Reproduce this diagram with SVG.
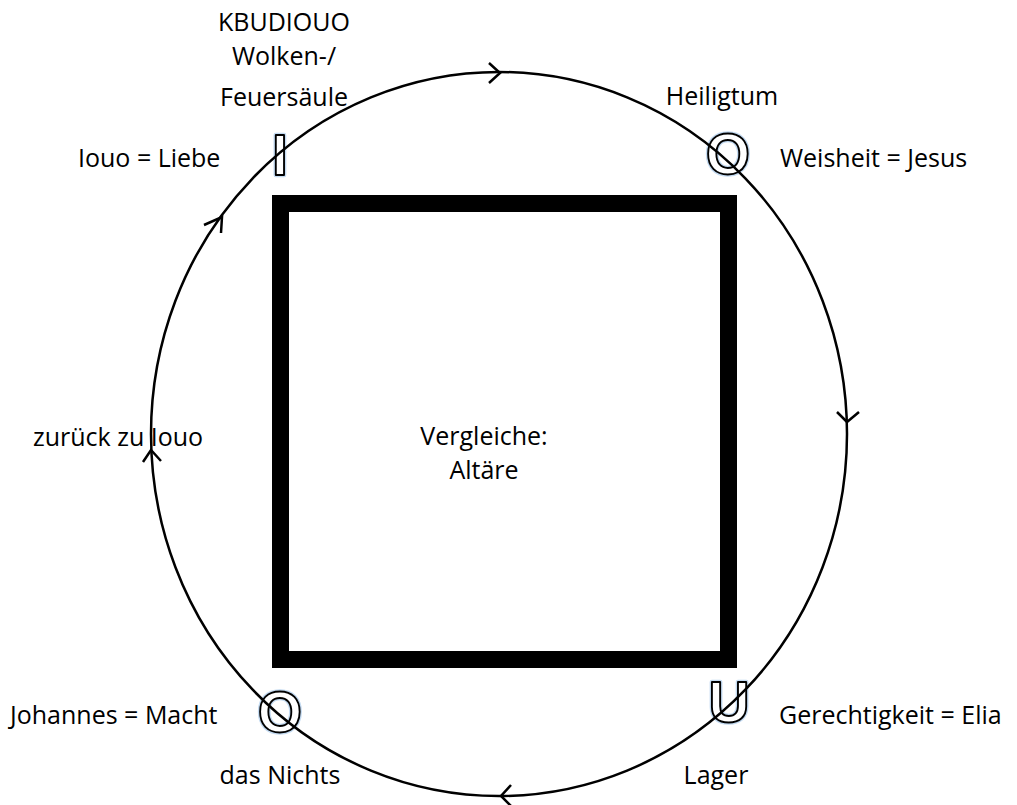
<svg xmlns="http://www.w3.org/2000/svg" width="1017" height="805" viewBox="0 0 1017 805">
<style>
.t{font-family:"Open Sans","Liberation Sans",Arial,sans-serif;font-size:25px;fill:#000}
.m{text-anchor:middle}
.glow{font-family:"Liberation Sans",Arial,sans-serif;font-size:57px;font-weight:bold;text-anchor:middle;fill:none;stroke:#c3daf1;stroke-width:4.5;stroke-linejoin:round}
.let{font-family:"Liberation Sans",Arial,sans-serif;font-size:57px;font-weight:bold;text-anchor:middle;fill:#fff;stroke:#000;stroke-width:1.9;stroke-linejoin:round}
.arr{fill:none;stroke:#000;stroke-width:2.5;stroke-linecap:butt}
</style>
<rect width="1017" height="805" fill="#fff"/>
<g id="altar">
<rect x="280.5" y="203.5" width="448" height="456" fill="none" stroke="#000" stroke-width="17"/>
<text class="t m" x="484" y="445">Vergleiche:</text>
<text class="t m" x="484" y="479">Altäre</text>
</g>
<g id="node-I">
<text class="glow" x="280" y="175">I</text>
<text class="let" x="280" y="175">I</text>
<text class="t m" x="284" y="31">KBUDIOUO</text>
<text class="t m" x="284" y="65">Wolken-/</text>
<text class="t m" x="284" y="106">Feuersäule</text>
<text class="t" x="78" y="167">Iouo = Liebe</text>
</g>
<g id="node-O-top">
<text class="glow" x="728" y="174">O</text>
<text class="let" x="728" y="174">O</text>
<text class="t m" x="722" y="105">Heiligtum</text>
<text class="t" x="780" y="167">Weisheit = Jesus</text>
</g>
<g id="node-U">
<text class="glow" x="729" y="722">U</text>
<text class="let" x="729" y="722">U</text>
<text class="t" x="779" y="724">Gerechtigkeit = Elia</text>
<text class="t m" x="716" y="784">Lager</text>
</g>
<g id="node-O-bottom">
<text class="glow" x="280" y="732">O</text>
<text class="let" x="280" y="732">O</text>
<text class="t" x="10" y="724">Johannes = Macht</text>
<text class="t m" x="280" y="784">das Nichts</text>
</g>
<g id="node-return">
<text class="t" x="33" y="446">zurück zu Iouo</text>
</g>
<g id="connectors">
<ellipse cx="499" cy="434" rx="348" ry="362" fill="none" stroke="#000" stroke-width="2.5"/>
<path class="arr" d="M489,63 L500,73 L489,83"/>
<path class="arr" d="M837,412 L847,422 L859,412"/>
<path class="arr" d="M511,785 L501,796 L511,806"/>
<path class="arr" d="M143,462 L151,450 L161,461"/>
<path class="arr" d="M204,225 L222,217 L221,233"/>
</g>
</svg>
